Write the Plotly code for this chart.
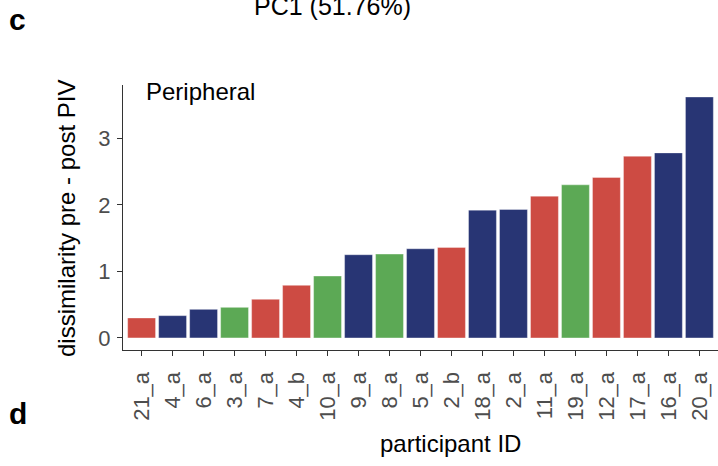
import plotly.graph_objects as go

participants = ["21_a", "4_a", "6_a", "3_a", "7_a", "4_b", "10_a", "9_a", "8_a", "5_a",
                "2_b", "18_a", "2_a", "11_a", "19_a", "12_a", "17_a", "16_a", "20_a"]
dissimilarity = [0.30, 0.335, 0.43, 0.46, 0.58, 0.79, 0.93, 1.25, 1.26, 1.34,
                 1.36, 1.92, 1.93, 2.13, 2.30, 2.41, 2.73, 2.78, 3.62]
groups = ["r", "b", "b", "g", "r", "r", "g", "b", "g", "b",
          "r", "b", "b", "r", "g", "r", "r", "b", "b"]
group_colors = {"r": "#CD4B43", "b": "#283574", "g": "#5CA955"}
y_ticks = [0, 1, 2, 3]

W, H = 718, 466
L, R, T, B = 123, 0, 85, 116
pw, ph = W - L - R, H - T - B


def px(x):  # window pixel -> paper x
    return (x - L) / pw


def py(y):  # window pixel -> paper y
    return (H - B - y) / ph


FONT = "Liberation Sans, Arial, Helvetica, sans-serif"

fig = go.Figure()
fig.add_trace(go.Bar(
    x=participants,
    y=dissimilarity,
    marker=dict(color=[group_colors[g] for g in groups],
                line=dict(color="rgba(255,255,255,0.6)", width=0.6)),
    showlegend=False,
))

fig.update_layout(
    width=W, height=H,
    margin=dict(l=L, r=R, t=T, b=B, pad=0),
    paper_bgcolor="white",
    plot_bgcolor="white",
    bargap=0.1,
    font=dict(family=FONT, size=22, color="#4D4D4D"),
    xaxis=dict(
        type="category",
        range=[-0.6, 18.6],
        showgrid=False, zeroline=False,
        showline=True, linecolor="#333333", linewidth=1.2,
        ticks="outside", ticklen=5, tickwidth=1.2, tickcolor="#333333",
        tickangle=-90,
        tickfont=dict(family=FONT, size=22, color="#4D4D4D"),
        ticklabelstandoff=7,
    ),
    yaxis=dict(
        range=[-0.181, 3.80],
        tickmode="array", tickvals=y_ticks, ticktext=[str(v) for v in y_ticks],
        showgrid=False, zeroline=False,
        showline=True, linecolor="#333333", linewidth=1.2,
        ticks="outside", ticklen=5, tickwidth=1.2, tickcolor="#333333",
        tickfont=dict(family=FONT, size=22, color="#4D4D4D"),
        ticklabelstandoff=2,
    ),
)

annotations = [
    dict(text="Peripheral", x=px(144), y=py(91), xanchor="left", yanchor="middle",
         font=dict(family=FONT, size=24, color="black")),
    dict(text="participant ID", x=px(450), y=py(443), xanchor="center", yanchor="middle",
         font=dict(family=FONT, size=24, color="black")),
    dict(text="dissimilarity pre - post PIV", x=px(66), y=py(219), xanchor="center",
         yanchor="middle", textangle=-90,
         font=dict(family=FONT, size=24, color="black")),
    dict(text="PC1 (51.76%)", x=px(332.5), y=py(6), xanchor="center", yanchor="middle",
         font=dict(family=FONT, size=25, color="black")),
    dict(text="<b>c</b>", x=px(17), y=py(19), xanchor="center", yanchor="middle",
         font=dict(family=FONT, size=30, color="black")),
    dict(text="<b>d</b>", x=px(18), y=py(413), xanchor="center", yanchor="middle",
         font=dict(family=FONT, size=30, color="black")),
]
for a in annotations:
    a.update(xref="paper", yref="paper", showarrow=False)
fig.update_layout(annotations=annotations)

fig.write_html(
    "out.html",
    config={"displayModeBar": False},
    post_script="document.body.style.margin='0px';document.body.style.overflow='hidden';",
)
